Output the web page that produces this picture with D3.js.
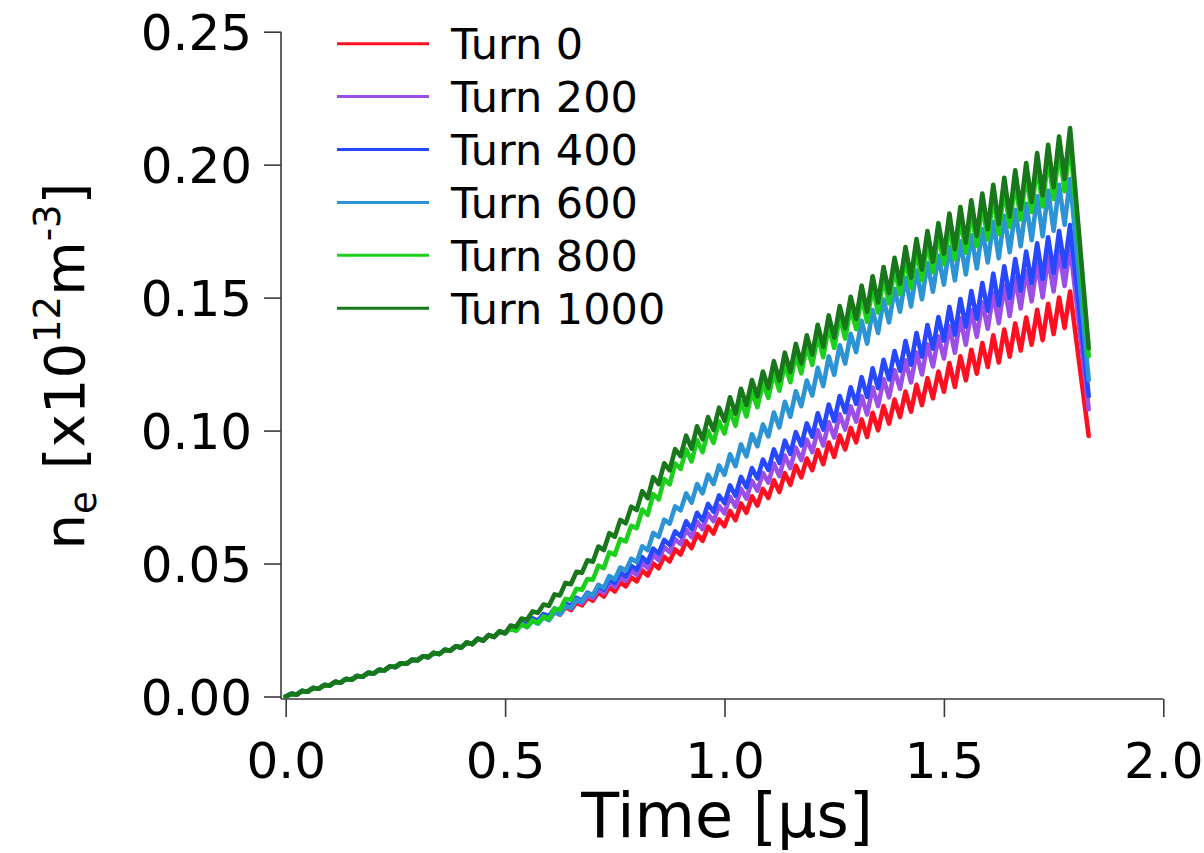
<!DOCTYPE html>
<html>
<head>
<meta charset="utf-8">
<script src="https://cdn.jsdelivr.net/npm/d3@7"></script>
<style>
  html, body { margin: 0; padding: 0; background: #ffffff; }
  svg { display: block; }
</style>
</head>
<body>
<svg id="chart" width="1204" height="853"></svg>
<script>
// ---------------- data ----------------
const seriesNames = ["Turn 0", "Turn 200", "Turn 400", "Turn 600", "Turn 800", "Turn 1000"];
const seriesColors = ["#ff1020", "#9b4fe6", "#2848ff", "#2c93d4", "#1ccf1c", "#17771a"];

// sampling of the recorded signal (µs): ripple peaks/troughs every half period, plus the final point
const sampleStep = 0.0125;
const lastTime = 1.83;

const xTicks = [0.0, 0.5, 1.0, 1.5, 2.0];
const yTicks = [0.00, 0.05, 0.10, 0.15, 0.20, 0.25];

// all turns coincide up to t = 0.5 µs
const commonEarly = [0, .0010, .0007, .0021, .0018, .0032, .0029, .0043, .0041, .0055, .0052, .0066, .0063,
  .0077, .0074, .0089, .0086, .0100, .0098, .0113, .0111, .0125, .0123, .0138, .0136, .0151, .0148, .0164,
  .0160, .0176, .0172, .0189, .0184, .0203, .0197, .0217, .0210, .0231, .0224, .0245, .0238];

const turn0 = [
  .0260,.0251,.0274,.0265,.0287,.0278,.0301,.0292,
  .0319,.0308,.0336,.0325,.0354,.0343,.0371,.0360,
  .0392,.0376,.0411,.0395,.0429,.0414,.0448,.0433,
  .0474,.0455,.0500,.0482,.0526,.0508,.0553,.0534,
  .0584,.0558,.0611,.0585,.0639,.0613,.0666,.0640,
  .0698,.0663,.0726,.0691,.0753,.0718,.0781,.0746,
  .0813,.0769,.0840,.0796,.0868,.0824,.0895,.0851,
  .0927,.0874,.0955,.0901,.0982,.0929,.1010,.0956,
  .1042,.0976,.1067,.1001,.1092,.1026,.1117,.1051,
  .1147,.1071,.1172,.1096,.1197,.1121,.1222,.1146,
  .1254,.1164,.1279,.1189,.1304,.1214,.1329,.1239,
  .1358,.1256,.1380,.1278,.1403,.1301,.1425,.1323,
  .1454,.1340,.1477,.1363,.1500,.1386,.1523,
  .098];

const turn200 = [
  .0261,.0252,.0276,.0267,.0291,.0282,.0306,.0297,
  .0325,.0314,.0343,.0332,.0362,.0351,.0381,.0370,
  .0404,.0390,.0427,.0412,.0449,.0435,.0472,.0457,
  .0502,.0483,.0532,.0513,.0562,.0543,.0592,.0573,
  .0627,.0599,.0657,.0629,.0687,.0659,.0717,.0689,
  .0751,.0714,.0781,.0744,.0811,.0774,.0841,.0804,
  .0876,.0829,.0906,.0859,.0936,.0889,.0966,.0919,
  .1001,.0944,.1031,.0974,.1061,.1004,.1091,.1034,
  .1129,.1060,.1162,.1092,.1194,.1125,.1227,.1157,
  .1264,.1181,.1294,.1211,.1324,.1241,.1354,.1271,
  .1392,.1293,.1422,.1323,.1452,.1353,.1482,.1383,
  .1518,.1404,.1545,.1431,.1573,.1459,.1600,.1486,
  .1631,.1501,.1652,.1523,.1674,.1544,.1695,
  .108];

const turn400 = [
  .0261,.0253,.0278,.0269,.0294,.0285,.0310,.0302,
  .0331,.0320,.0351,.0340,.0371,.0360,.0391,.0380,
  .0416,.0402,.0441,.0427,.0466,.0452,.0491,.0477,
  .0524,.0505,.0556,.0537,.0589,.0570,.0621,.0602,
  .0659,.0630,.0691,.0662,.0724,.0695,.0756,.0727,
  .0794,.0755,.0826,.0787,.0859,.0820,.0891,.0852,
  .0929,.0879,.0962,.0912,.0994,.0944,.1027,.0977,
  .1065,.1004,.1098,.1036,.1130,.1069,.1163,.1101,
  .1201,.1127,.1234,.1160,.1266,.1192,.1299,.1225,
  .1337,.1248,.1367,.1278,.1397,.1308,.1427,.1338,
  .1465,.1361,.1495,.1391,.1525,.1421,.1555,.1451,
  .1590,.1471,.1618,.1499,.1645,.1526,.1673,.1554,
  .1704,.1570,.1727,.1593,.1750,.1616,.1773,
  .113];

const turn600 = [
  .0258,.0248,.0271,.0261,.0284,.0274,.0297,.0287,
  .0317,.0308,.0341,.0332,.0365,.0356,.0388,.0380,
  .0420,.0409,.0453,.0441,.0485,.0474,.0518,.0506,
  .0565,.0550,.0615,.0600,.0665,.0650,.0715,.0700,
  .0764,.0729,.0799,.0764,.0834,.0799,.0869,.0834,
  .0911,.0866,.0948,.0903,.0986,.0941,.1023,.0978,
  .1068,.1012,.1108,.1052,.1148,.1092,.1188,.1132,
  .1236,.1167,.1279,.1210,.1321,.1252,.1364,.1295,
  .1413,.1327,.1453,.1367,.1493,.1407,.1533,.1447,
  .1574,.1467,.1602,.1494,.1629,.1522,.1657,.1549,
  .1689,.1565,.1712,.1587,.1734,.1610,.1757,.1632,
  .1785,.1648,.1808,.1671,.1830,.1693,.1853,.1716,
  .1881,.1731,.1903,.1752,.1924,.1774,.1946,
  .119];

const turn800 = [
  .0256,.0247,.0271,.0262,.0286,.0277,.0301,.0292,
  .0330,.0326,.0367,.0364,.0405,.0401,.0442,.0439,
  .0492,.0483,.0542,.0533,.0592,.0583,.0642,.0633,
  .0703,.0683,.0761,.0741,.0818,.0798,.0876,.0856,
  .0929,.0884,.0964,.0919,.0999,.0954,.1034,.0989,
  .1075,.1018,.1110,.1053,.1145,.1088,.1180,.1123,
  .1219,.1150,.1252,.1182,.1284,.1215,.1317,.1247,
  .1357,.1276,.1392,.1311,.1427,.1346,.1462,.1381,
  .1504,.1409,.1539,.1444,.1574,.1479,.1609,.1514,
  .1649,.1536,.1679,.1566,.1709,.1596,.1739,.1626,
  .1774,.1644,.1799,.1669,.1824,.1694,.1849,.1719,
  .1882,.1739,.1910,.1767,.1937,.1794,.1965,.1822,
  .2000,.1843,.2029,.1871,.2057,.1900,.2086,
  .128];

const turn1000 = [
  .0267,.0262,.0293,.0289,.0320,.0315,.0346,.0341,
  .0384,.0380,.0427,.0422,.0469,.0465,.0512,.0507,
  .0564,.0551,.0614,.0601,.0664,.0651,.0714,.0701,
  .0772,.0746,.0825,.0799,.0877,.0851,.0930,.0904,
  .0981,.0932,.1016,.0967,.1051,.1002,.1086,.1037,
  .1125,.1064,.1157,.1096,.1190,.1129,.1222,.1161,
  .1261,.1188,.1293,.1221,.1326,.1253,.1358,.1286,
  .1398,.1315,.1433,.1350,.1468,.1385,.1503,.1420,
  .1545,.1447,.1580,.1482,.1615,.1517,.1650,.1552,
  .1690,.1575,.1720,.1605,.1750,.1635,.1780,.1665,
  .1816,.1682,.1841,.1707,.1866,.1732,.1891,.1757,
  .1924,.1777,.1951,.1805,.1979,.1832,.2006,.1860,
  .2044,.1884,.2075,.1915,.2106,.1947,.2138,
  .131];

const seriesValues = [turn0, turn200, turn400, turn600, turn800, turn1000];

// ---------------- layout ----------------
const svg = d3.select("#chart");
const FONT = "'DejaVu Sans', 'Liberation Sans', sans-serif";
const AXIS_COLOR = "#3a3a3a";

const x = d3.scaleLinear().domain([0, 2]).range([285.7, 1163.3]);
const y = d3.scaleLinear().domain([0, 0.25]).range([696.5, 31.7]);
const axisX0 = 281;       // position of the left axis line
const axisY0 = 699;       // position of the bottom axis line

function buildPoints(vals) {
  const full = commonEarly.concat(vals);
  return full.map((v, i) => ({ t: i < full.length - 1 ? i * sampleStep : lastTime, v: v }));
}

// ---------------- axes ----------------
const yAxis = d3.axisLeft(y).tickValues(yTicks).tickFormat(d3.format(".2f"))
  .tickSize(17).tickPadding(12);
const gy = svg.append("g").attr("transform", `translate(${axisX0},0)`).call(yAxis);
gy.select(".domain").remove();
gy.selectAll(".tick line").attr("stroke", AXIS_COLOR).attr("stroke-width", 1.6);
gy.selectAll(".tick text").attr("font-family", FONT).attr("font-size", 50)
  .attr("fill", "#000").attr("dy", "0.36em");
svg.append("line").attr("x1", axisX0).attr("x2", axisX0)
  .attr("y1", y(0.25)).attr("y2", axisY0)
  .attr("stroke", AXIS_COLOR).attr("stroke-width", 1.6);

const xAxis = d3.axisBottom(x).tickValues(xTicks).tickFormat(d3.format(".1f"))
  .tickSize(18).tickPadding(25);
const gx = svg.append("g").attr("transform", `translate(0,${axisY0})`).call(xAxis);
gx.select(".domain").remove();
gx.selectAll(".tick line").attr("stroke", AXIS_COLOR).attr("stroke-width", 1.6);
gx.selectAll(".tick text").attr("font-family", FONT).attr("font-size", 50).attr("fill", "#000");
svg.append("line").attr("x1", axisX0).attr("x2", x(2))
  .attr("y1", axisY0).attr("y2", axisY0)
  .attr("stroke", AXIS_COLOR).attr("stroke-width", 1.6);

// axis titles
svg.append("text").attr("x", (axisX0 + x(2)) / 2 + 5).attr("y", 837)
  .attr("text-anchor", "middle").attr("font-family", FONT).attr("font-size", 62)
  .attr("fill", "#000").text("Time [µs]");

const yt = svg.append("text")
  .attr("transform", "translate(84,366) rotate(-90)")
  .attr("text-anchor", "middle").attr("font-family", FONT).attr("font-size", 56).attr("fill", "#000");
yt.append("tspan").text("n");
yt.append("tspan").attr("font-size", 37).attr("dy", 12).text("e");
yt.append("tspan").attr("dy", -12).attr("dx", 22).text("[x10");
yt.append("tspan").attr("font-size", 37).attr("dy", -24).text("12");
yt.append("tspan").attr("dy", 24).text("m");
yt.append("tspan").attr("font-size", 37).attr("dy", -24).text("-3");
yt.append("tspan").attr("dy", 24).text("]");

// ---------------- lines ----------------
const line = d3.line().x(d => x(d.t)).y(d => y(d.v));
seriesValues.forEach((vals, i) => {
  svg.append("path")
    .datum(buildPoints(vals))
    .attr("fill", "none")
    .attr("stroke", seriesColors[i])
    .attr("stroke-width", 4.6)
    .attr("stroke-linejoin", "round")
    .attr("stroke-linecap", "round")
    .attr("d", line);
});

// ---------------- legend ----------------
const legend = svg.append("g");
seriesNames.forEach((name, i) => {
  const ly = 43.7 + i * 52.9;
  legend.append("line").attr("x1", 337).attr("x2", 429).attr("y1", ly).attr("y2", ly)
    .attr("stroke", seriesColors[i]).attr("stroke-width", 3);
  legend.append("text").attr("x", 451).attr("y", ly + 15.5)
    .attr("font-family", FONT).attr("font-size", 43).attr("fill", "#000").text(name);
});
</script>
</body>
</html>
